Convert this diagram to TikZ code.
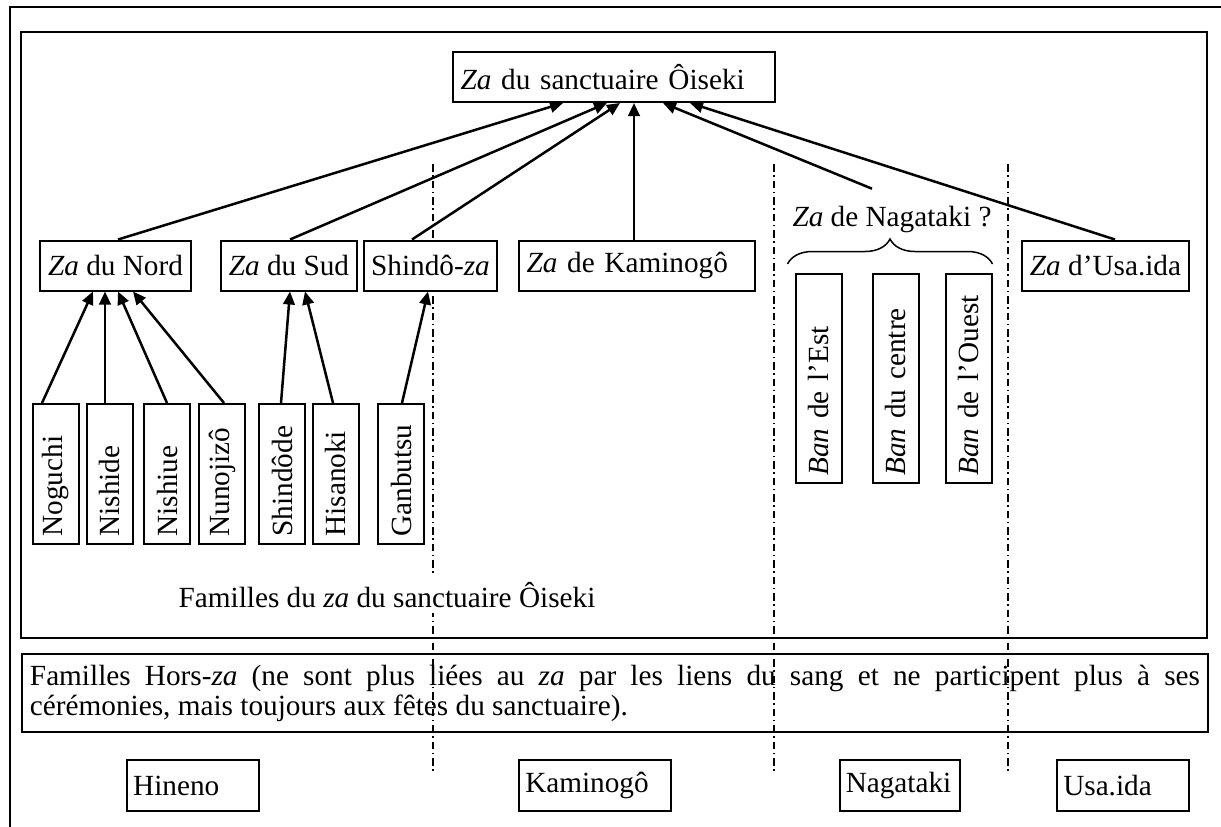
\documentclass[tikz,border=0pt]{standalone}
\usepackage{fontspec}
\setmainfont{Liberation Serif}
\usetikzlibrary{arrows.meta,calc,decorations.pathreplacing}
\hyphenpenalty=10000
\tikzset{
  boite/.style={draw,thick,fill=white,minimum height=20pt,inner xsep=3pt,inner ysep=2pt},
  boitev/.style={draw,thick,fill=white,rotate=90,minimum height=18.4pt,inner xsep=3pt,inner ysep=2pt,align=left,text width=#1},
  village/.style={draw,thick,minimum height=20.4pt,inner xsep=2.5pt,inner ysep=2pt,align=left,text width=#1},
  fleche/.style={line width=1pt,-{Triangle[length=5.2pt,width=4.6pt]}},
  limite/.style={line width=0.5pt,dash pattern=on 3pt off 1.5pt on 0.6pt off 1.5pt},
}
\begin{document}
\begin{tikzpicture}[x=0.4pt,y=-0.4pt,font=\fontsize{11.7}{12}\selectfont]
        \useasboundingbox (0,0) rectangle (1221,827);
        %% frames
        \draw[thick] (1221,7) -- (10,7) -- (10,827);
        \draw[thick] (21,32) rectangle (1207,638);
        \node[draw,thick,text width=468pt,inner xsep=3.2pt,minimum height=31.2pt,align=justify] (horsza) at (615,693)
            {Familles Hors-\textit{za} (ne sont plus liées au \textit{za} par les liens du sang et ne participent plus à ses\linebreak
             cérémonies, mais toujours aux fêtes du sanctuaire).};
        %% limits
        \foreach \x in {433,774,1008}
            \draw[limite] (\x,164) -- (\x,773);
        %% za
        \node[boite,text width=122.8pt,align=left] (sanct) at (614,77) {\textit{Za} du sanctuaire Ôiseki};
        \node[boite,minimum width=60.4pt] (nord) at (115.5,265.5) {\textit{Za} du Nord};
        \node[boite,minimum width=52.8pt] (sud) at (289,265.5) {\textit{Za} du Sud};
        \node[boite,minimum width=52.4pt] (shindo) at (430.5,265.5) {Shindô-\textit{za}};
        \node[boite,text width=88.4pt,align=left] (kami) at (637,265.5) {\textit{Za} de Kaminogô};
        \node[boite,minimum width=66.8pt] (usa) at (1105.5,265.5) {\textit{Za} d’Usa.ida};
        \node[inner sep=7pt] (naga) at (892,220) {\textit{Za} de Nagataki ?};
        %% families
        \foreach \x/\n/\t in {56/noguchi/Noguchi,109.5/nishide/Nishide,167/nishiue/Nishiue,222/nunojizo/Nunojizô,
                              282/shindode/Shindôde,335.5/hisanoki/Hisanoki,401/ganbutsu/Ganbutsu}
            \node[boitev=50pt] (\n) at (\x,474) {\t};
        \foreach \x/\n/\t in {818.5/est/de l’Est,895.5/centre/du centre,968.5/ouest/de l’Ouest}
            \node[boitev=77.6pt] (ban\n) at (\x,378.5) {\textit{Ban} \t};
        \draw[line width=0.6pt,decorate,decoration={brace,amplitude=10pt}]
            ($(banest.north east)+(-7,-9)$) -- ($(banouest.south east)+(0,-9)$);
        \node[fill=white,inner sep=2pt] (familles) at (387,595) {Familles du \textit{za} du sanctuaire Ôiseki};
        %% villages
        \foreach \x/\w/\n/\t in {193/47.8pt/hineno/Hineno,595/55.8pt/kaminogo/Kaminogô,
                                 899.5/43pt/nagataki/Nagataki,1123/47.8pt/usaida/Usa.ida}
            \node[village=\w] (\n) at (\x,785.5) {\t};
        %% arrows
        \foreach \p/\dp/\q/\dq in {nord/2.5/sanct/-51,sud/1/sanct/-7,shindo/-18.5/sanct/6,
                                   kami/-3/sanct/20,naga/-20/sanct/49,usa/9.5/sanct/76}
            \draw[fleche] ($(\p.north)+(\dp,0)$) -- ($(\q.south)+(\dq,0)$);
        \foreach \p/\dp/\q/\dq in {noguchi/-14/nord/-22.5,nishide/-4.5/nord/-10.5,nishiue/0/nord/2.5,
                                   nunojizo/2/nord/17.5,shindode/-1/sud/1,hisanoki/-2.5/sud/16,ganbutsu/1/shindo/-2.5}
            \draw[fleche] ($(\p.east)+(\dp,0)$) -- ($(\q.south)+(\dq,0)$);
\end{tikzpicture}
\end{document}
